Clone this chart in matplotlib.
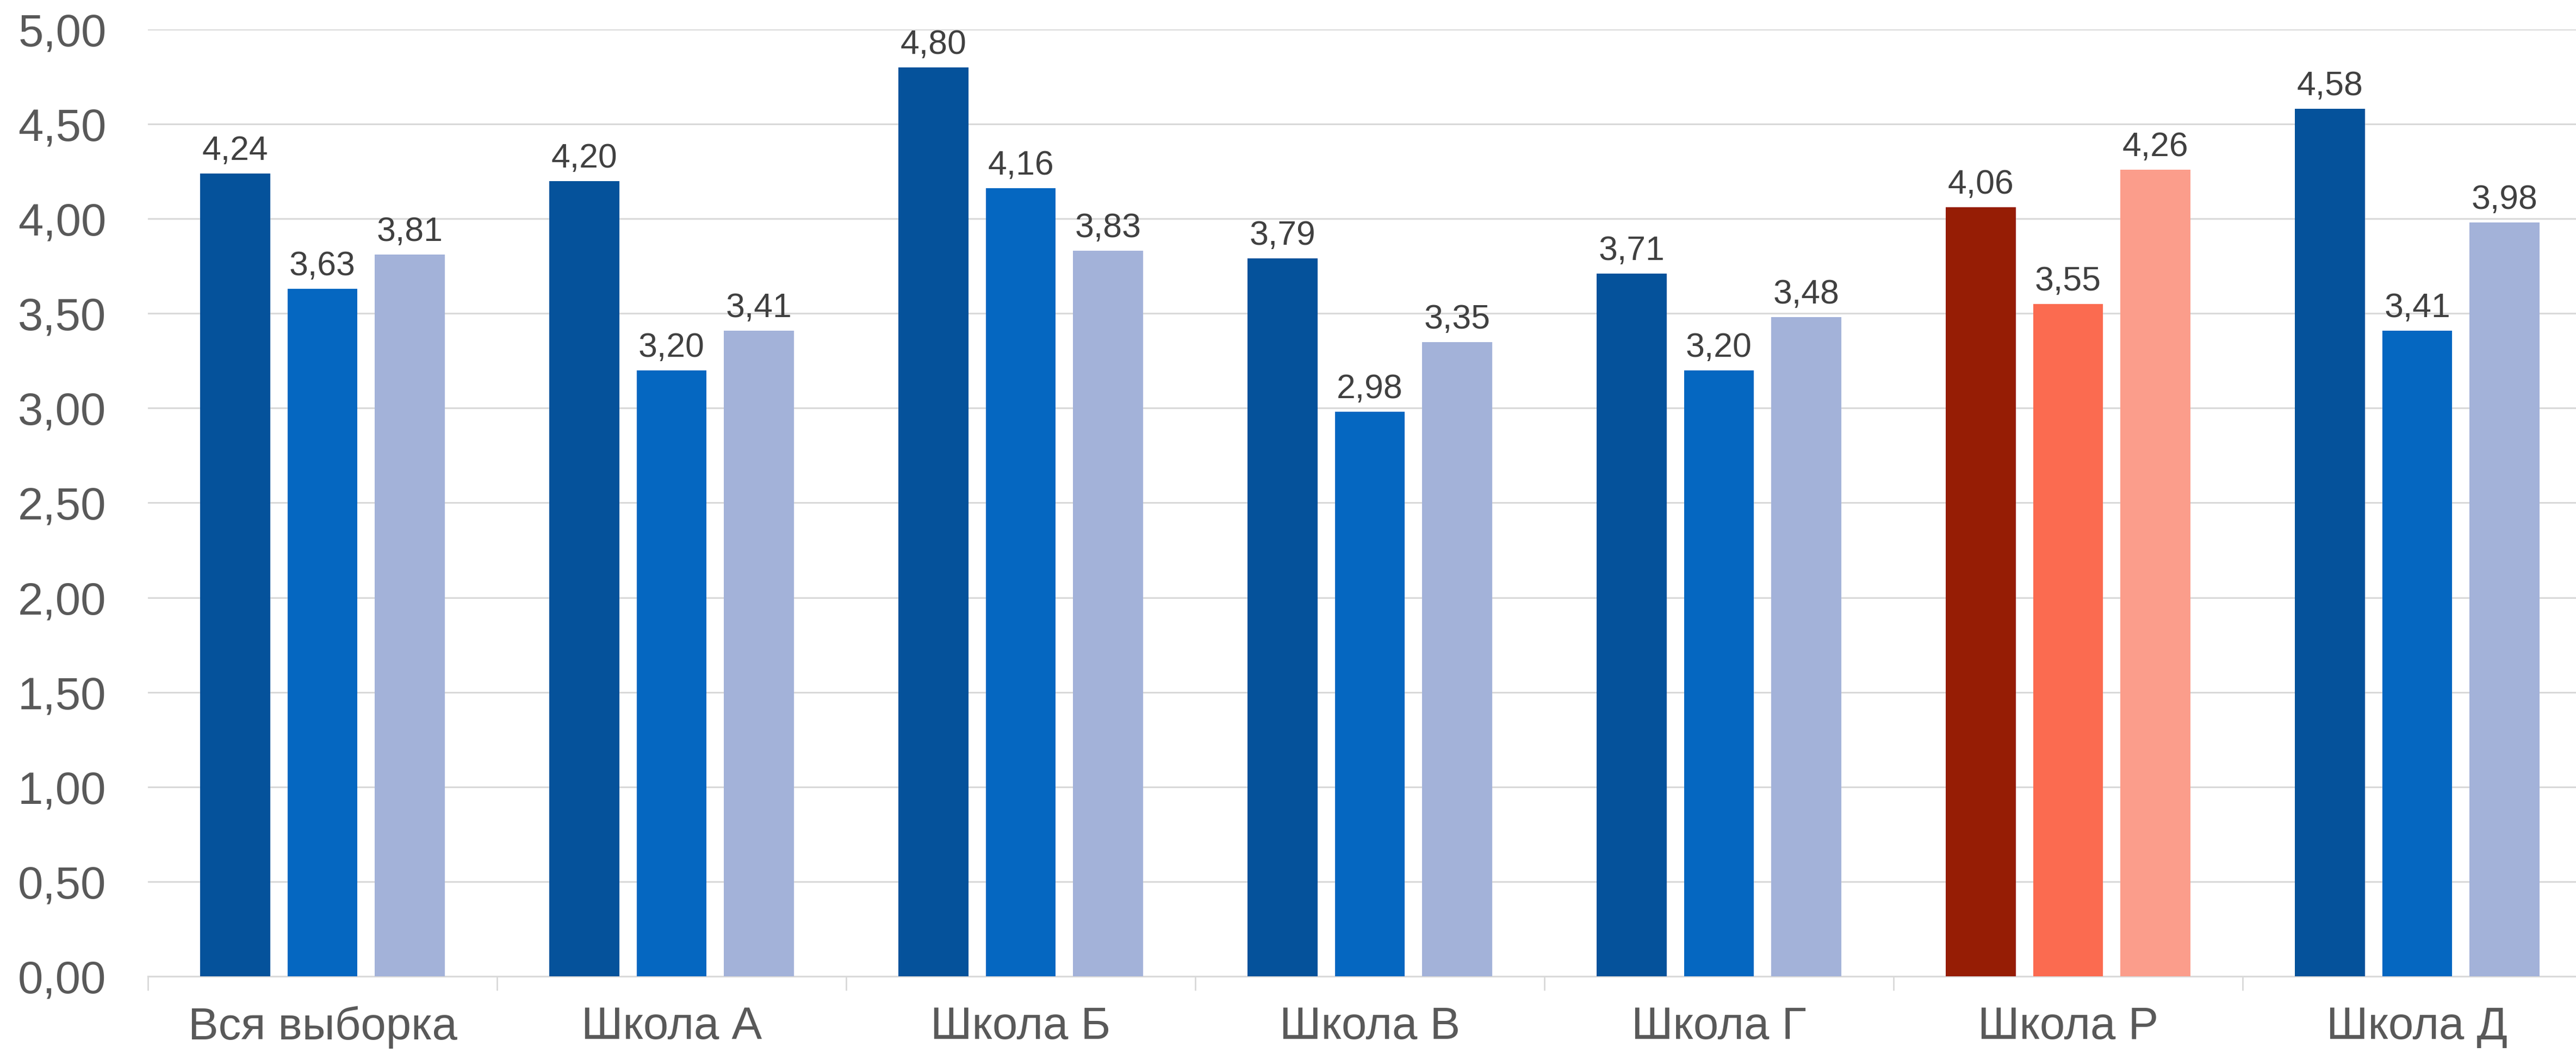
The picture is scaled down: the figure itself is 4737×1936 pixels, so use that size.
import numpy as np
import matplotlib.pyplot as plt
from matplotlib.ticker import FixedLocator

categories = ['Вся выборка', 'Школа А', 'Школа Б', 'Школа В', 'Школа Г', 'Школа Р', 'Школа Д']
series1 = [4.24, 4.20, 4.80, 3.79, 3.71, 4.06, 4.58]
series2 = [3.63, 3.20, 4.16, 2.98, 3.20, 3.55, 3.41]
series3 = [3.81, 3.41, 3.83, 3.35, 3.48, 4.26, 3.98]
highlight = 'Школа Р'

blues = ['#05529B', '#0567C1', '#A3B2D9']
reds = ['#961D05', '#FB6B50', '#FB9D8B']

plt.rcParams['font.family'] = ['Liberation Sans', 'DejaVu Sans']

fig = plt.figure(figsize=(47.37, 19.36), dpi=100)
ax = fig.add_axes([272 / 4737, 141 / 1936, 4494 / 4737, 1741 / 1936])

x = np.arange(len(categories))
width = 0.2
step = 0.25
for k, vals in enumerate([series1, series2, series3]):
    cols = [reds[k] if c == highlight else blues[k] for c in categories]
    pos = x + (k - 1) * step
    ax.bar(pos, vals, width=width, color=cols, zorder=3)
    for px, v in zip(pos, vals):
        ax.annotate(f'{v:.2f}'.replace('.', ','), (px, v), xytext=(0, 18),
                    textcoords='offset points', ha='center', va='baseline',
                    fontsize=45, color='#404040')

ax.set_xlim(-0.5, len(categories) - 0.5)
ax.set_ylim(0, 5)
ax.set_yticks(np.arange(0, 5.01, 0.5))
ax.set_yticklabels([f'{t:.2f}'.replace('.', ',') for t in np.arange(0, 5.01, 0.5)])
ax.set_xticks(x)
ax.set_xticklabels(categories)
ax.xaxis.set_minor_locator(FixedLocator(np.arange(-0.5, len(categories), 1.0)))

ax.tick_params(axis='y', length=0, pad=55, labelsize=60, labelcolor='#595959')
ax.tick_params(axis='x', which='major', length=0, pad=39, labelsize=60, labelcolor='#595959')
ax.tick_params(axis='x', which='minor', length=19, width=2, color='#D9D9D9')

ax.grid(axis='y', color='#D9D9D9', linewidth=2.2, zorder=0)
for s in ['top', 'right', 'left']:
    ax.spines[s].set_visible(False)
ax.spines['bottom'].set_color('#D9D9D9')
ax.spines['bottom'].set_linewidth(2.2)

fig.savefig('out.png', dpi=100)
